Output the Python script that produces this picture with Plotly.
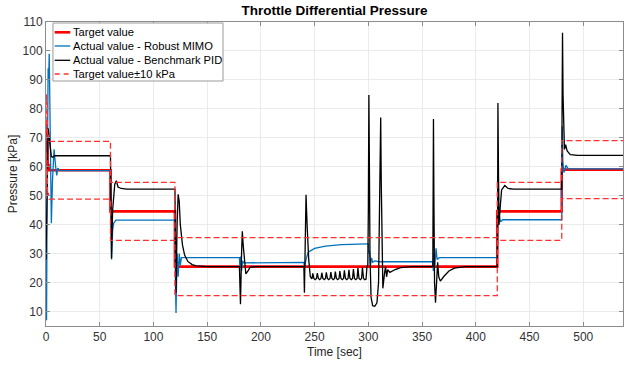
import plotly.graph_objects as go

# ---- data ----
t_target = [0, 0.3, 1.0, 1.5, 2.2, 3.0, 60, 60, 120, 120, 420, 420, 480, 480, 537]
y_target = [59, 75, 72, 60, 61, 58.8, 58.8, 44.6, 44.6, 25.5, 25.5, 44.6, 44.6, 59, 59]

t_mimo = [0, 0.5, 1.2, 2.0, 2.5, 3.0, 3.8, 4.5, 5.0, 6.0, 7.5, 9.0, 10, 11, 13, 60,
          60.5, 61, 62, 63, 65, 120,
          120.5, 121, 122, 123, 124, 125, 126, 180,
          180.5, 181, 182, 183, 184, 240,
          240.5, 242, 244, 250, 260, 275, 299,
          300, 300.5, 301, 302, 303, 304, 306, 310, 360,
          360.5, 361, 362, 363, 364, 366, 420,
          420.5, 421, 421.5, 422, 423, 425, 480,
          480.5, 481, 482, 484, 486, 537]
y_mimo = [30, 7, 60, 94, 90, 99, 75, 50, 40.5, 55, 66, 60, 57, 59.5, 58.7, 58.7,
          45, 28, 38, 40.5, 41.6, 41.6,
          20, 9.5, 30, 22, 30, 26, 28.6, 28.6,
          25, 29, 24, 27.5, 26.8, 27,
          25, 28, 30.5, 31.8, 32.6, 33.1, 33.4,
          33.4, 30, 31, 26, 28.5, 27, 27.5, 27.2, 27.2,
          24, 30, 26, 31.8, 28, 28.6, 28.6,
          50, 56, 40, 43, 41, 41.7, 41.7,
          74, 62, 58, 60.5, 59.3, 59.3]

t_pid = [0, 0.5, 1.2, 2.0, 3.0, 4.0, 5.0, 6.0, 8.0, 60,
         60.5, 61, 62, 63, 64, 65.5, 67, 70, 75, 120,
         120.5, 121, 122, 123, 124, 125, 127, 129, 132, 136, 140, 150, 180,
         180.5, 181, 182, 182.7, 183.5, 185, 186, 188, 190, 195, 240,
         240.5, 241, 242, 243, 244.5, 246, 247.5,
         248.3, 249.3, 250.5, 251.7, 252.5, 253.5, 254.7, 255.9, 256.7, 257.7,
         258.9, 260.1, 260.9, 261.9, 263.1, 264.3, 265.1, 266.1, 267.3, 268.5,
         269.3, 270.3, 271.5, 272.7, 273.5, 274.5, 275.7, 276.9, 277.7, 278.7,
         279.9, 281.1, 281.9, 282.9, 284.1, 285.3, 286.1, 287.1, 288.3, 289.5,
         290.3, 291.3, 292.5, 293.7, 294.5, 295.5, 296.7, 297.9, 298.7,
         299.5, 300.0, 300.5, 301, 301.5, 302.5, 304, 306, 308, 309.5, 310.5, 311.5,
         312, 312.7, 313.5, 315, 316, 317, 318, 320, 325, 330, 340, 360,
         360.3, 360.6, 361, 361.6, 362.5, 363.5, 364.5, 365.5, 367, 370, 375, 380, 390, 420,
         420.2, 420.6, 421, 421.5, 422.5, 424, 427, 430, 435, 480,
         480.3, 480.7, 481.2, 481.8, 482.5, 483.6, 485, 488, 495, 537]
y_pid = [28, 40, 68, 73.3, 70, 66, 63.5, 63.3, 63.8, 63.8,
         45, 28.3, 45, 51, 54, 55.2, 53, 52.5, 52.3, 52.3,
         25, 16.5, 40, 50.5, 48, 40, 33, 29.5, 27.3, 26.2, 25.8, 25.5, 25.5,
         18, 12.5, 30, 37.7, 33, 26, 23, 24, 25.3, 25.5, 25.5,
         16.5, 30, 50.3, 40, 28, 22, 21.3,
         23.2, 21.4, 21.0, 21.4, 23.3, 21.4, 21.0, 21.4, 23.4, 21.4,
         21.0, 21.4, 23.5, 21.4, 21.0, 21.4, 23.6, 21.4, 21.0, 21.4,
         23.8, 21.4, 21.0, 21.4, 24.0, 21.4, 21.0, 21.4, 24.2, 21.4,
         21.0, 21.4, 24.4, 21.4, 21.0, 21.4, 24.7, 21.4, 21.0, 21.4,
         25.0, 21.4, 21.0, 21.4, 25.3, 21.4, 21.0, 21.2, 25.6,
         26, 45, 84.8, 60, 30, 15, 12, 11.8, 13, 20, 50, 77,
         55, 25, 18, 23, 25.5, 22, 24.5, 23.5, 24.5, 25.2, 25.5, 25.5,
         50, 76.5, 50, 20, 13, 20, 27, 22, 20.5, 22, 24, 25, 25.5, 25.5,
         34, 82, 60, 40, 45, 52, 53.5, 52.5, 52.3, 52.3,
         80, 106.3, 85, 70, 66, 67.6, 65.5, 64.2, 63.9, 63.9]

band_offset = 10  # kPa, "Target value ± 10 kPa"

legend_labels = ["Target value", "Actual value - Robust MIMO",
                 "Actual value - Benchmark PID", "Target value\u00b110 kPa"]

RED, BLUE, BLACK, DRED = "#ff0000", "#0072bd", "#000000", "#ff3030"
FONT = "Liberation Sans, Arial, sans-serif"
DASH = "6px,3px"

# ---- figure ----
fig = go.Figure()

fig.add_trace(go.Scatter(
    x=t_target, y=y_target, mode="lines", name=legend_labels[0],
    line=dict(color=RED, width=2.6)))
fig.add_trace(go.Scatter(
    x=t_mimo, y=y_mimo, mode="lines", name=legend_labels[1],
    line=dict(color=BLUE, width=1.3)))
fig.add_trace(go.Scatter(
    x=t_pid, y=y_pid, mode="lines", name=legend_labels[2],
    line=dict(color=BLACK, width=1.3)))
fig.add_trace(go.Scatter(
    x=t_target, y=[v + band_offset for v in y_target], mode="lines",
    name=legend_labels[3], line=dict(color=DRED, width=1.3, dash=DASH)))
fig.add_trace(go.Scatter(
    x=t_target, y=[v - band_offset for v in y_target], mode="lines",
    name=legend_labels[3], line=dict(color=DRED, width=1.3, dash=DASH)))

axis_common = dict(
    showgrid=True, gridcolor="#ebebeb", gridwidth=1,
    showline=True, linecolor="#8c8c8c", linewidth=1, mirror="ticks",
    ticks="inside", ticklen=4, tickcolor="#8c8c8c",
    tickfont=dict(family=FONT, size=12, color="#333333"),
    zeroline=False,
)

# ---- compact MATLAB-style legend box (paper coordinates) ----
box_x0, box_x1, box_y0, box_y1 = 0.0121, 0.3068, 0.8059, 0.9967
row_y = [0.9661, 0.9211, 0.8740, 0.8289]
samp_x0, samp_x1, text_x = 0.0150, 0.0420, 0.0440
samp_styles = [dict(color=RED, width=2.6), dict(color=BLUE, width=1.3),
               dict(color=BLACK, width=1.3), dict(color=DRED, width=1.3, dash="5px,4px")]

shapes = [dict(type="rect", xref="paper", yref="paper",
               x0=box_x0, x1=box_x1, y0=box_y0, y1=box_y1,
               fillcolor="white", line=dict(color="#9a9a9a", width=1), layer="above")]
annotations = []
for lab, yy, st in zip(legend_labels, row_y, samp_styles):
    shapes.append(dict(type="line", xref="paper", yref="paper",
                       x0=samp_x0, x1=samp_x1, y0=yy, y1=yy, line=st, layer="above"))
    annotations.append(dict(xref="paper", yref="paper", x=text_x, y=yy,
                            xanchor="left", yanchor="middle", showarrow=False,
                            text=lab, font=dict(family=FONT, size=11.2, color="#000000")))

fig.update_layout(
    width=625, height=365,
    margin=dict(l=46, r=2, t=22, b=39),
    paper_bgcolor="white", plot_bgcolor="white",
    font=dict(family=FONT, color="#262626"),
    title=dict(text="<b>Throttle Differential Pressure</b>",
               font=dict(size=13.5, color="#000000"),
               x=0.5351, xanchor="center", y=0.972, yanchor="middle"),
    xaxis=dict(range=[0, 537], tickvals=[0, 50, 100, 150, 200, 250, 300, 350, 400, 450, 500],
               title=dict(text="Time [sec]", font=dict(size=12, color="#262626"), standoff=4),
               **axis_common),
    yaxis=dict(range=[5, 110], tickvals=[10, 20, 30, 40, 50, 60, 70, 80, 90, 100, 110],
               title=dict(text="Pressure [kPa]", font=dict(size=12, color="#262626"), standoff=2),
               **axis_common),
    shapes=shapes,
    annotations=annotations,
    showlegend=False,
)

fig.write_html("out.html")
